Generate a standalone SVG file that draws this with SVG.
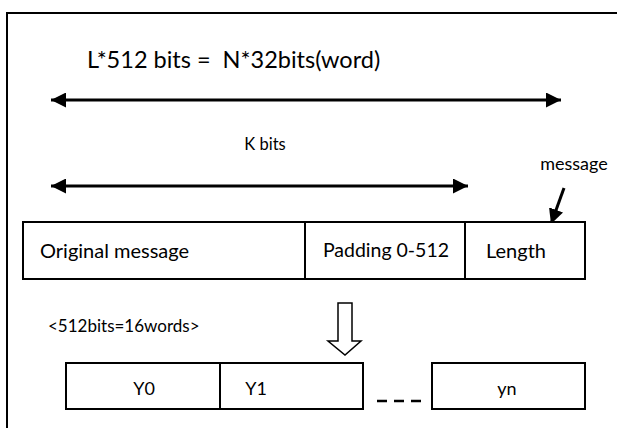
<svg xmlns="http://www.w3.org/2000/svg" width="617" height="428" viewBox="0 0 617 428">
<style>
text{font-family:Lato,"Open Sans","Liberation Sans",sans-serif;font-size:20px;fill:#000;white-space:pre}
.box{fill:#fff;stroke:#000;stroke-width:2}
.ln{stroke:#000;stroke-width:3;fill:none}
.small{font-size:17px}
.mid{font-size:18px}
</style>
<defs>
<marker id="ah" viewBox="0 0 10 10" refX="10" refY="5" markerWidth="5" markerHeight="5" orient="auto-start-reverse" markerUnits="strokeWidth">
<path d="M0,0 L10,5 L0,10 z" fill="#000"/>
</marker>
</defs>
<rect width="617" height="428" fill="#fff"/>
<path d="M7,440 V13 H630" fill="none" stroke="#000" stroke-width="2"/>
<g id="title"><text x="87" y="68" xml:space="preserve" style="font-size:23.5px">L*512 bits =  N*32bits(word)</text></g>
<g id="kbits"><text x="265" y="150" text-anchor="middle" style="font-size:16.5px">K bits</text></g>
<g id="msglabel"><text x="574" y="170" text-anchor="middle" style="font-size:18px">message</text></g>
<g id="connectors">
<line class="ln" x1="51" y1="100" x2="561" y2="100" marker-start="url(#ah)" marker-end="url(#ah)"/>
<line class="ln" x1="51" y1="186" x2="468" y2="186" marker-start="url(#ah)" marker-end="url(#ah)"/>
<line class="ln" x1="564" y1="188" x2="551" y2="224" marker-end="url(#ah)"/>
<path d="M338,303 H352 V341 H361 L345,355 L328,341 H338 Z" fill="#fff" stroke="#000" stroke-width="1.5"/>
<line x1="377" y1="401" x2="428" y2="401" stroke="#000" stroke-width="2.5" stroke-dasharray="10,7"/>
</g>
<g id="orig"><rect class="box" x="23" y="222" width="282" height="57"/><text x="40" y="258">Original message</text></g>
<g id="padding"><rect class="box" x="305" y="222" width="160" height="57"/><text x="386" y="257" text-anchor="middle" style="font-size:19.5px">Padding 0-512</text></g>
<g id="length"><rect class="box" x="465" y="222" width="120" height="57"/><text x="516" y="258" text-anchor="middle">Length</text></g>
<g id="blocklabel"><text class="small" x="48" y="332">&lt;512bits=16words&gt;</text></g>
<g id="y0"><rect class="box" x="66" y="363" width="154" height="46"/><text class="mid" x="144" y="395" text-anchor="middle">Y0</text></g>
<g id="y1"><rect class="box" x="220" y="363" width="143" height="46"/><text class="mid" x="256" y="395" text-anchor="middle">Y1</text></g>
<g id="yn"><rect class="box" x="432" y="363" width="153" height="46"/><text class="mid" x="507" y="395" text-anchor="middle">yn</text></g>
</svg>
